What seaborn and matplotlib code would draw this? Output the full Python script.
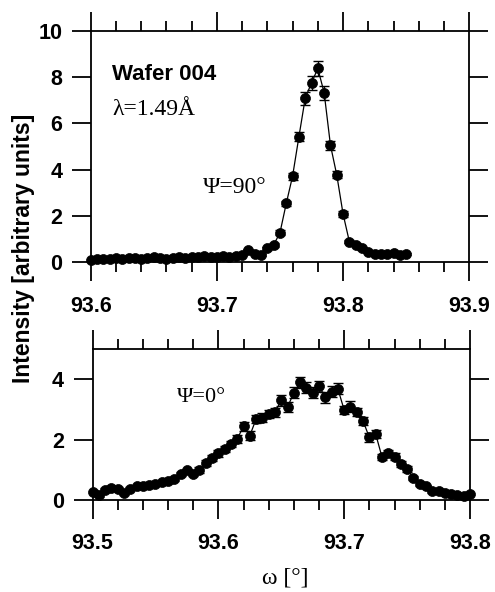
import pandas as pd
import seaborn as sns
import matplotlib.pyplot as plt
from matplotlib.ticker import MultipleLocator

# --- Psi = 90 deg scan (upper panel)
omega_90 = [93.600, 93.605, 93.610, 93.615, 93.620, 93.625, 93.630, 93.635, 93.640, 93.645,
            93.650, 93.655, 93.660, 93.665, 93.670, 93.675, 93.680, 93.685, 93.690, 93.695,
            93.700, 93.705, 93.710, 93.715, 93.720, 93.725, 93.730, 93.735, 93.740, 93.745,
            93.750, 93.755, 93.760, 93.765, 93.770, 93.775, 93.780, 93.785, 93.790, 93.795,
            93.800, 93.805, 93.810, 93.815, 93.820, 93.825, 93.830, 93.835, 93.840, 93.845,
            93.850]
intensity_90 = [0.10, 0.12, 0.15, 0.13, 0.17, 0.15, 0.18, 0.16, 0.13, 0.19,
                0.22, 0.17, 0.14, 0.16, 0.20, 0.18, 0.22, 0.20, 0.24, 0.21,
                0.23, 0.25, 0.21, 0.26, 0.30, 0.50, 0.35, 0.30, 0.59, 0.74,
                1.27, 2.54, 3.72, 5.42, 7.09, 7.76, 8.38, 7.33, 5.06, 3.77,
                2.08, 0.88, 0.75, 0.60, 0.45, 0.35, 0.33, 0.35, 0.38, 0.30,
                0.35]
err_90 = [0.04, 0.04, 0.04, 0.04, 0.04, 0.04, 0.04, 0.04, 0.04, 0.04,
          0.04, 0.04, 0.04, 0.04, 0.04, 0.04, 0.04, 0.04, 0.04, 0.04,
          0.04, 0.04, 0.04, 0.04, 0.05, 0.06, 0.05, 0.05, 0.06, 0.07,
          0.10, 0.12, 0.15, 0.20, 0.28, 0.30, 0.33, 0.30, 0.20, 0.15,
          0.12, 0.07, 0.07, 0.06, 0.05, 0.05, 0.05, 0.05, 0.05, 0.05,
          0.05]

# --- Psi = 0 deg scan (lower panel)
omega_0 = [93.500, 93.505, 93.510, 93.515, 93.520, 93.525, 93.530, 93.535, 93.540, 93.545,
           93.550, 93.555, 93.560, 93.565, 93.570, 93.575, 93.580, 93.585, 93.590, 93.595,
           93.600, 93.605, 93.610, 93.615, 93.620, 93.625, 93.630, 93.635, 93.640, 93.645,
           93.650, 93.655, 93.660, 93.665, 93.670, 93.675, 93.680, 93.685, 93.690, 93.695,
           93.700, 93.705, 93.710, 93.715, 93.720, 93.725, 93.730, 93.735, 93.740, 93.745,
           93.750, 93.755, 93.760, 93.765, 93.770, 93.775, 93.780, 93.785, 93.790, 93.795,
           93.800]
intensity_0 = [0.28, 0.17, 0.33, 0.39, 0.38, 0.23, 0.38, 0.45, 0.48, 0.50,
               0.53, 0.58, 0.63, 0.68, 0.86, 0.98, 0.86, 1.00, 1.21, 1.38,
               1.54, 1.70, 1.86, 2.02, 2.44, 2.13, 2.68, 2.73, 2.84, 2.90,
               3.30, 3.08, 3.55, 3.90, 3.72, 3.55, 3.77, 3.40, 3.58, 3.68,
               2.98, 3.09, 2.92, 2.62, 2.07, 2.19, 1.43, 1.55, 1.44, 1.19,
               1.04, 0.73, 0.54, 0.45, 0.29, 0.31, 0.23, 0.20, 0.18, 0.12,
               0.19]
err_0 = [0.06, 0.06, 0.06, 0.06, 0.06, 0.06, 0.06, 0.06, 0.06, 0.06,
         0.06, 0.06, 0.06, 0.06, 0.06, 0.06, 0.06, 0.10, 0.10, 0.10,
         0.10, 0.10, 0.10, 0.14, 0.14, 0.14, 0.14, 0.14, 0.14, 0.14,
         0.18, 0.18, 0.18, 0.18, 0.18, 0.18, 0.18, 0.18, 0.18, 0.18,
         0.14, 0.18, 0.14, 0.14, 0.14, 0.14, 0.10, 0.10, 0.10, 0.10,
         0.10, 0.06, 0.06, 0.06, 0.06, 0.06, 0.06, 0.06, 0.06, 0.06,
         0.06]

df90 = pd.DataFrame({'omega': omega_90, 'intensity': intensity_90, 'err': err_90})
df0 = pd.DataFrame({'omega': omega_0, 'intensity': intensity_0, 'err': err_0})

sns.set_style("ticks")
plt.rcParams['font.family'] = ['Liberation Sans', 'DejaVu Sans']
plt.rcParams['font.weight'] = 'bold'
# everything in plain black like the printed figure
for key in ['text.color', 'axes.labelcolor', 'xtick.color', 'ytick.color', 'axes.edgecolor']:
    plt.rcParams[key] = 'black'

fig = plt.figure(figsize=(4.95, 5.92), dpi=100)
ax1 = fig.add_axes([0.1832, 0.5574, 0.7648, 0.3902])
ax2 = fig.add_axes([0.1869, 0.1554, 0.7626, 0.2551])


def draw_scan(ax, df):
    sns.lineplot(data=df, x='omega', y='intensity', color='black', lw=0.9, ax=ax,
                 sort=True, estimator=None)
    ax.errorbar(df['omega'], df['intensity'], yerr=df['err'], fmt='none',
                ecolor='black', elinewidth=1.0, capsize=3.5, capthick=1.0)
    sns.scatterplot(data=df, x='omega', y='intensity', color='black', s=52,
                    edgecolor='black', linewidth=0.5, ax=ax, clip_on=False, zorder=5)


def style_axes(ax, xlim, ylim, yticks, xpad):
    ax.set_xlim(*xlim)
    ax.set_ylim(*ylim)
    ax.set_yticks(yticks)
    ax.xaxis.set_major_locator(MultipleLocator(0.1))
    ax.xaxis.set_minor_locator(MultipleLocator(0.02))
    ax.set_xticklabels([f'{v:.1f}' for v in ax.get_xticks()])
    ax.set_yticklabels([f'{v:g}' for v in yticks])
    for s in ax.spines.values():
        s.set_linewidth(1.3)
        s.set_color('black')
        s.set_visible(True)
    ax.tick_params(which='both', direction='out', top=True, right=True,
                   width=1.3, color='black', labelcolor='black')
    ax.tick_params(which='major', length=13.5)
    ax.tick_params(which='minor', length=7)
    ax.tick_params(axis='y', which='major', pad=7, labelsize=15.5)
    ax.tick_params(axis='x', which='major', pad=xpad, labelsize=15.5)
    ax.set_xlabel('')
    ax.set_ylabel('')


draw_scan(ax1, df90)
style_axes(ax1, (93.6, 93.9), (0, 10), [0, 2, 4, 6, 8, 10], 11)
draw_scan(ax2, df0)
style_axes(ax2, (93.5, 93.8), (0, 5), [0, 2, 4], 10)

ax1.text(93.617, 7.88, 'Wafer 004', fontsize=16, fontweight='bold', va='baseline')
ax1.text(93.617, 6.36, 'λ=1.49Å', fontsize=17, fontweight='normal',
         family='Liberation Serif', va='baseline')
ax1.text(93.689, 2.99, 'Ψ=90°', fontsize=17, fontweight='normal',
         family='Liberation Serif', va='baseline')
ax2.text(93.567, 3.24, 'Ψ=0°', fontsize=16, fontweight='normal',
         family='Liberation Serif', va='baseline')

fig.text(0.0465, 1 - 248.5 / 592, 'Intensity [arbitrary units]', rotation=90,
         ha='center', va='center', fontsize=16.5, fontweight='bold')
fig.text(285 / 495, 1 - 578 / 592, 'ω [°]', ha='center', va='center',
         fontsize=17, fontweight='normal', family='Liberation Serif')

fig.savefig('out.png', dpi=100)
